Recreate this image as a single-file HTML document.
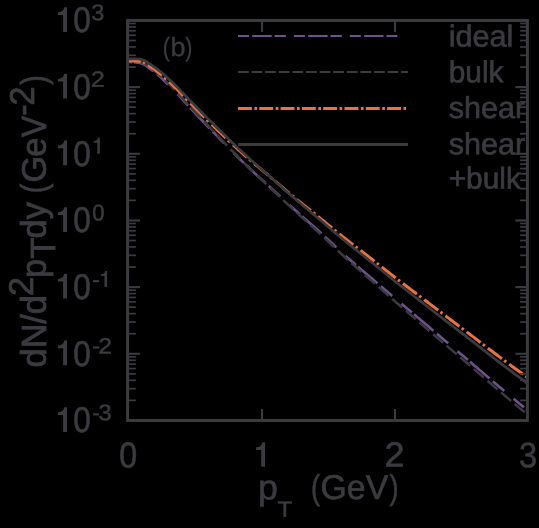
<!DOCTYPE html>
<html><head><meta charset="utf-8"><title>spectra</title>
<style>
html,body{margin:0;padding:0;background:#000;}
body{width:539px;height:528px;overflow:hidden;}
svg{display:block;will-change:transform;}
text{font-family:"Liberation Sans",sans-serif;fill:#3a3a3f;}
</style></head><body>
<svg width="539" height="528" viewBox="0 0 539 528">
<rect width="539" height="528" fill="#000"/>
<path d="M127.60,61.81 L129.07,61.89 L130.53,61.98 L132.00,62.08 M134.10,62.24 L136.04,62.42 L137.98,62.66 L139.92,62.96 L141.86,63.51 L143.80,64.40 L145.74,65.45 L147.68,66.87 L149.62,68.41 L151.56,69.84 L153.50,71.27 M156.90,74.00 L158.78,75.64 L160.67,77.35 L162.55,79.14 L164.43,80.97 L166.32,82.81 L168.20,84.65 M177.50,94.06 L179.25,95.95 L181.00,97.87 L182.75,99.80 L184.50,101.74 L186.25,103.68 L188.00,105.60 M190.10,107.86 L192.04,109.93 L193.98,111.98 L195.92,114.04 L197.86,116.08 L199.80,118.12 L201.74,120.16 L203.68,122.19 L205.62,124.22 L207.56,126.23 L209.50,128.25 M212.90,131.77 L214.78,133.71 L216.67,135.65 L218.55,137.58 L220.43,139.51 L222.32,141.44 L224.20,143.36 M233.50,152.77 L235.25,154.51 L237.00,156.25 L238.75,157.98 L240.50,159.70 L242.25,161.40 L244.00,163.10 M246.10,165.11 L248.04,166.95 L249.98,168.77 L251.92,170.57 L253.86,172.36 L255.80,174.14 L257.74,175.91 L259.68,177.68 L261.62,179.44 L263.56,181.21 L265.50,182.97 M268.90,186.08 L270.78,187.81 L272.67,189.55 L274.55,191.30 L276.43,193.04 L278.32,194.79 L280.20,196.53 M289.50,205.07 L291.25,206.65 L293.00,208.22 L294.75,209.78 L296.50,211.34 L298.25,212.90 L300.00,214.45 M302.10,216.30 L304.04,218.01 L305.98,219.71 L307.92,221.41 L309.86,223.12 L311.80,224.82 L313.74,226.53 L315.68,228.24 L317.62,229.97 L319.56,231.70 L321.50,233.46 M324.90,236.61 L326.78,238.38 L328.67,240.16 L330.55,241.96 L332.43,243.75 L334.32,245.55 L336.20,247.33 M345.50,255.90 L347.25,257.46 L349.00,259.01 L350.75,260.53 L352.50,262.05 L354.25,263.55 L356.00,265.05 M358.10,266.83 L360.04,268.48 L361.98,270.13 L363.92,271.77 L365.86,273.41 L367.80,275.06 L369.74,276.71 L371.68,278.36 L373.62,280.02 L375.56,281.67 L377.50,283.33 M380.90,286.24 L382.78,287.85 L384.67,289.46 L386.55,291.07 L388.43,292.68 L390.32,294.29 L392.20,295.90 M401.50,303.78 L403.25,305.25 L405.00,306.72 L406.75,308.19 L408.50,309.65 L410.25,311.12 L412.00,312.59 M414.10,314.35 L416.04,315.98 L417.98,317.62 L419.92,319.26 L421.86,320.91 L423.80,322.56 L425.74,324.21 L427.68,325.86 L429.62,327.52 L431.56,329.18 L433.50,330.83 M436.90,333.73 L438.78,335.34 L440.67,336.94 L442.55,338.54 L444.43,340.14 L446.32,341.73 L448.20,343.33 M457.50,351.18 L459.25,352.66 L461.00,354.14 L462.75,355.61 L464.50,357.09 L466.25,358.57 L468.00,360.05 M470.10,361.84 L472.04,363.49 L473.98,365.14 L475.92,366.80 L477.86,368.46 L479.80,370.13 L481.74,371.79 L483.68,373.46 L485.62,375.12 L487.56,376.79 L489.50,378.45 M492.90,381.36 L494.78,382.96 L496.67,384.56 L498.55,386.15 L500.43,387.74 L502.32,389.32 L504.20,390.90 M513.50,398.66 L515.25,400.11 L517.00,401.56 L518.75,403.01 L520.50,404.45 L522.25,405.89 L524.00,407.33 M526.10,409.05 L527.40,410.12" fill="none" stroke="#6e508d" stroke-width="2.6"/>
<path d="M127.60,60.60 L129.23,60.69 L130.87,60.78 L132.50,60.89 L134.13,61.00 L135.77,61.14 M139.21,61.58 L141.13,61.98 L143.04,62.75 L144.95,63.72 L146.87,64.95 L148.78,66.46 M152.23,69.02 L154.14,70.45 L156.06,71.98 L157.97,73.61 L159.88,75.32 L161.80,77.10 M165.24,80.45 L167.16,82.32 L169.07,84.20 L170.98,86.09 L172.90,88.00 L174.81,89.95 M178.26,93.58 L180.17,95.66 L182.08,97.76 L184.00,99.88 L185.91,102.00 L187.83,104.10 M191.27,107.80 L193.18,109.84 L195.10,111.87 L197.01,113.90 L198.93,115.93 L200.84,117.95 M204.29,121.59 L206.20,123.61 L208.11,125.64 L210.03,127.66 L211.94,129.69 L213.85,131.71 M217.30,135.36 L219.24,137.41 L221.18,139.45 L223.11,141.48 L225.05,143.51 L226.99,145.53 M230.48,149.16 L232.42,151.17 L234.36,153.16 L236.29,155.15 L238.23,157.12 L240.17,159.08 M243.66,162.57 L245.60,164.49 L247.54,166.38 L249.47,168.26 L251.41,170.12 L253.35,171.96 M256.84,175.26 L258.78,177.08 L260.72,178.89 L262.65,180.70 L264.59,182.51 L266.53,184.33 M270.02,187.61 L271.96,189.44 L273.90,191.28 L275.83,193.12 L277.77,194.96 L279.71,196.81 M283.20,200.11 L284.87,201.69 L286.54,203.26 L288.21,204.82 L289.89,206.38 L291.56,207.92 L293.23,209.46 M296.84,212.76 L298.51,214.28 L300.18,215.79 L301.85,217.31 L303.53,218.81 L305.20,220.32 L306.87,221.82 M310.48,225.06 L312.15,226.57 L313.82,228.07 L315.49,229.59 L317.17,231.11 L318.84,232.63 L320.51,234.17 M324.12,237.54 L325.79,239.13 L327.46,240.72 L329.13,242.31 L330.81,243.91 L332.48,245.51 L334.15,247.11 M337.76,250.54 L339.43,252.11 L341.10,253.66 L342.77,255.21 L344.45,256.74 L346.12,258.27 L347.79,259.78 M351.40,263.02 L353.07,264.51 L354.74,265.99 L356.41,267.46 L358.08,268.92 L359.75,270.38 L361.41,271.84 M365.02,274.98 L366.69,276.44 L368.36,277.90 L370.03,279.36 L371.70,280.82 L373.37,282.29 L375.03,283.76 M378.64,286.94 L380.31,288.41 L381.98,289.88 L383.65,291.35 L385.32,292.82 L386.99,294.29 L388.65,295.76 M392.26,298.94 L393.93,300.40 L395.60,301.86 L397.27,303.32 L398.94,304.78 L400.61,306.23 L402.27,307.68 M405.88,310.78 L407.55,312.21 L409.22,313.64 L410.89,315.07 L412.56,316.49 L414.23,317.92 L415.89,319.34 M419.50,322.43 L421.17,323.86 L422.83,325.30 L424.50,326.73 L426.17,328.17 L427.83,329.60 L429.50,331.04 M433.10,334.14 L434.77,335.57 L436.43,337.00 L438.10,338.44 L439.77,339.86 L441.43,341.29 L443.10,342.72 M446.70,345.79 L448.37,347.21 L450.03,348.63 L451.70,350.05 L453.37,351.47 L455.03,352.88 L456.70,354.30 M460.30,357.37 L461.97,358.79 L463.63,360.21 L465.30,361.63 L466.97,363.06 L468.63,364.48 L470.30,365.91 M473.90,369.01 L475.57,370.45 L477.23,371.89 L478.90,373.34 L480.57,374.78 L482.23,376.23 L483.90,377.67 M487.50,380.79 L489.17,382.24 L490.83,383.68 L492.50,385.12 L494.17,386.55 L495.83,387.98 L497.50,389.41 M501.10,392.48 L502.77,393.89 L504.43,395.30 L506.10,396.71 L507.77,398.12 L509.43,399.52 L511.10,400.93 M514.70,403.95 L516.37,405.34 L518.03,406.73 L519.70,408.13 L521.37,409.51 L523.03,410.90 L524.70,412.28" fill="none" stroke="#3a3a3f" stroke-width="2.5"/>
<path d="M127.60,60.80 L129.49,60.82 L131.37,60.85 L133.26,60.89 L135.15,60.94 L137.04,61.04 L138.92,61.20 L140.81,61.44 M143.11,62.21 L144.11,62.65 L145.11,63.11 M148.05,65.00 L149.80,66.26 L151.55,67.42 L153.30,68.58 L155.05,69.78 L156.80,71.08 L158.55,72.45 L160.30,73.87 L162.05,75.36 M164.35,77.40 L165.35,78.29 L166.35,79.19 M169.29,81.86 L171.04,83.48 L172.79,85.12 L174.54,86.80 L176.29,88.51 L178.04,90.28 L179.79,92.08 L181.54,93.92 L183.29,95.77 M185.59,98.20 L186.59,99.25 L187.59,100.30 M190.53,103.32 L192.28,105.10 L194.03,106.87 L195.78,108.63 L197.53,110.39 L199.28,112.15 L201.03,113.90 L202.78,115.64 L204.53,117.38 M206.83,119.66 L207.83,120.65 L208.83,121.63 M211.77,124.52 L213.52,126.23 L215.27,127.93 L217.02,129.62 L218.77,131.31 L220.52,133.00 L222.27,134.67 L224.02,136.34 L225.77,138.01 M228.07,140.18 L229.07,141.12 L230.07,142.05 M233.01,144.79 L234.76,146.40 L236.51,148.01 L238.26,149.60 L240.01,151.18 L241.76,152.75 L243.51,154.31 L245.26,155.85 L247.01,157.37 M249.31,159.35 L250.31,160.20 L251.31,161.05 M254.25,163.53 L256.00,164.99 L257.75,166.45 L259.50,167.91 L261.25,169.37 L263.00,170.83 L264.75,172.29 L266.50,173.76 L268.25,175.24 M270.55,177.19 L271.55,178.05 L272.55,178.90 M275.49,181.42 L277.24,182.93 L278.99,184.43 L280.74,185.93 L282.49,187.43 L284.24,188.93 L285.99,190.42 L287.74,191.90 L289.49,193.37 M291.79,195.29 L292.79,196.12 L293.79,196.94 M296.73,199.36 L298.48,200.79 L300.23,202.22 L301.98,203.63 L303.73,205.05 L305.48,206.45 L307.23,207.86 L308.98,209.25 L310.73,210.65 M313.03,212.49 L314.03,213.29 L315.03,214.09 M317.97,216.46 L319.72,217.87 L321.47,219.30 L323.22,220.73 L324.97,222.17 L326.72,223.62 L328.47,225.06 L330.22,226.51 L331.97,227.96 M334.27,229.85 L335.27,230.67 L336.27,231.49 M339.21,233.87 L340.96,235.27 L342.71,236.66 L344.46,238.04 L346.21,239.41 L347.96,240.77 L349.71,242.13 L351.46,243.49 L353.21,244.84 M355.51,246.61 L356.51,247.38 L357.51,248.14 M360.45,250.40 L362.20,251.75 L363.95,253.10 L365.70,254.45 L367.45,255.80 L369.20,257.16 L370.95,258.53 L372.70,259.90 L374.45,261.27 M376.75,263.08 L377.75,263.86 L378.75,264.65 M381.69,266.97 L383.44,268.35 L385.19,269.72 L386.94,271.10 L388.69,272.48 L390.44,273.85 L392.19,275.22 L393.94,276.59 L395.69,277.95 M397.99,279.74 L398.99,280.51 L399.99,281.28 M402.93,283.54 L404.68,284.87 L406.43,286.20 L408.18,287.52 L409.93,288.85 L411.68,290.17 L413.43,291.49 L415.18,292.81 L416.93,294.13 M419.23,295.87 L420.23,296.63 L421.23,297.39 M424.17,299.63 L425.92,300.96 L427.67,302.30 L429.42,303.63 L431.17,304.96 L432.92,306.30 L434.67,307.63 L436.42,308.96 L438.17,310.29 M440.47,312.04 L441.47,312.80 L442.47,313.55 M445.41,315.78 L447.16,317.10 L448.91,318.42 L450.66,319.74 L452.41,321.06 L454.16,322.38 L455.91,323.70 L457.66,325.02 L459.41,326.34 M461.71,328.08 L462.71,328.83 L463.71,329.59 M466.65,331.82 L468.40,333.15 L470.15,334.48 L471.90,335.82 L473.65,337.15 L475.40,338.50 L477.15,339.84 L478.90,341.19 L480.65,342.53 M482.95,344.30 L483.95,345.07 L484.95,345.84 M487.89,348.10 L489.64,349.44 L491.39,350.78 L493.14,352.12 L494.89,353.45 L496.64,354.77 L498.39,356.09 L500.14,357.40 L501.89,358.71 M504.19,360.43 L505.19,361.17 L506.19,361.91 M509.13,364.09 L510.88,365.38 L512.63,366.67 L514.38,367.96 L516.13,369.24 L517.88,370.52 L519.63,371.80 L521.38,373.07 L523.13,374.34 M525.43,376.01 L527.40,377.43" fill="none" stroke="#ea7140" stroke-width="3.0"/>
<path d="M127.60,58.80 L129.60,58.81 L131.60,58.82 L133.60,58.84 L135.60,58.89 L137.59,59.00 L139.59,59.16 L141.59,59.53 L143.59,60.27 L145.59,61.19 L147.59,62.48 L149.59,63.92 L151.59,65.23 L153.59,66.53 L155.59,67.90 L157.58,69.39 L159.58,70.96 L161.58,72.61 L163.58,74.35 L165.58,76.12 L167.58,77.91 L169.58,79.73 L171.58,81.58 L173.58,83.48 L175.58,85.42 L177.57,87.42 L179.57,89.49 L181.57,91.59 L183.57,93.72 L185.57,95.85 L187.57,97.97 L189.57,100.06 L191.57,102.11 L193.57,104.16 L195.57,106.20 L197.56,108.24 L199.56,110.27 L201.56,112.29 L203.56,114.31 L205.56,116.33 L207.56,118.33 L209.56,120.33 L211.56,122.32 L213.56,124.31 L215.56,126.28 L217.55,128.25 L219.55,130.21 L221.55,132.17 L223.55,134.13 L225.55,136.08 L227.55,138.03 L229.55,139.96 L231.55,141.89 L233.55,143.81 L235.55,145.72 L237.54,147.61 L239.54,149.50 L241.54,151.36 L243.54,153.22 L245.54,155.05 L247.54,156.87 L249.54,158.66 L251.54,160.44 L253.54,162.20 L255.54,163.96 L257.53,165.70 L259.53,167.44 L261.53,169.18 L263.53,170.92 L265.53,172.67 L267.53,174.42 L269.53,176.18 L271.53,177.96 L273.53,179.74 L275.53,181.53 L277.52,183.32 L279.52,185.11 L281.52,186.90 L283.52,188.68 L285.52,190.46 L287.52,192.22 L289.52,193.98 L291.52,195.72 L293.52,197.45 L295.52,199.17 L297.51,200.88 L299.51,202.59 L301.51,204.28 L303.51,205.97 L305.51,207.65 L307.51,209.33 L309.51,211.00 L311.51,212.67 L313.51,214.34 L315.51,216.01 L317.50,217.69 L319.50,219.38 L321.50,221.08 L323.50,222.79 L325.50,224.51 L327.50,226.23 L329.50,227.96 L331.50,229.69 L333.50,231.40 L335.50,233.11 L337.49,234.80 L339.49,236.48 L341.49,238.14 L343.49,239.78 L345.49,241.41 L347.49,243.03 L349.49,244.64 L351.49,246.24 L353.49,247.84 L355.49,249.43 L357.48,251.02 L359.48,252.61 L361.48,254.20 L363.48,255.79 L365.48,257.38 L367.48,258.98 L369.48,260.58 L371.48,262.19 L373.48,263.81 L375.48,265.42 L377.47,267.04 L379.47,268.66 L381.47,270.29 L383.47,271.91 L385.47,273.53 L387.47,275.15 L389.47,276.77 L391.47,278.38 L393.47,279.99 L395.47,281.59 L397.46,283.19 L399.46,284.78 L401.46,286.36 L403.46,287.93 L405.46,289.49 L407.46,291.05 L409.46,292.61 L411.46,294.16 L413.46,295.71 L415.46,297.27 L417.45,298.82 L419.45,300.37 L421.45,301.93 L423.45,303.49 L425.45,305.06 L427.45,306.62 L429.45,308.18 L431.45,309.74 L433.45,311.30 L435.45,312.86 L437.44,314.42 L439.44,315.97 L441.44,317.52 L443.44,319.06 L445.44,320.61 L447.44,322.15 L449.44,323.68 L451.44,325.22 L453.44,326.76 L455.44,328.29 L457.43,329.83 L459.43,331.36 L461.43,332.90 L463.43,334.44 L465.43,335.97 L467.43,337.52 L469.43,339.06 L471.43,340.61 L473.43,342.16 L475.43,343.71 L477.42,345.27 L479.42,346.83 L481.42,348.40 L483.42,349.96 L485.42,351.52 L487.42,353.08 L489.42,354.64 L491.42,356.19 L493.42,357.74 L495.42,359.28 L497.41,360.82 L499.41,362.35 L501.41,363.88 L503.41,365.40 L505.41,366.91 L507.41,368.42 L509.41,369.93 L511.41,371.43 L513.41,372.93 L515.41,374.43 L517.40,375.92 L519.40,377.41 L521.40,378.90 L523.40,380.38 L525.40,381.85 L527.40,383.33" fill="none" stroke="#3a3a3f" stroke-width="2.7"/>
<path d="M238,35.95 H397.3" stroke="#6e508d" stroke-width="2.1" fill="none" stroke-dasharray="11 3.3 19.4 2.9 11.3 8.0"/>
<path d="M238,72.0 H408" stroke="#3a3a3f" stroke-width="2.0" fill="none" stroke-dasharray="10.8 2.8"/>
<path d="M238,108.4 H406" stroke="#ea7140" stroke-width="3.0" fill="none" stroke-dasharray="13.9 2.5 2.7 2.2"/>
<path d="M238,144.45 H408" stroke="#3a3a3f" stroke-width="2.9" fill="none"/>
<path d="M127.60,67.05 L135.90,67.05" stroke="#3a3a3f" stroke-width="1.7"/>
<path d="M527.40,67.05 L520.10,67.05" stroke="#3a3a3f" stroke-width="1.7"/>
<path d="M127.60,55.31 L135.90,55.31" stroke="#3a3a3f" stroke-width="1.7"/>
<path d="M527.40,55.31 L520.10,55.31" stroke="#3a3a3f" stroke-width="1.7"/>
<path d="M127.60,46.98 L135.90,46.98" stroke="#3a3a3f" stroke-width="1.7"/>
<path d="M527.40,46.98 L520.10,46.98" stroke="#3a3a3f" stroke-width="1.7"/>
<path d="M127.60,40.52 L135.90,40.52" stroke="#3a3a3f" stroke-width="1.7"/>
<path d="M527.40,40.52 L520.10,40.52" stroke="#3a3a3f" stroke-width="1.7"/>
<path d="M127.60,35.24 L135.90,35.24" stroke="#3a3a3f" stroke-width="1.7"/>
<path d="M527.40,35.24 L520.10,35.24" stroke="#3a3a3f" stroke-width="1.7"/>
<path d="M127.60,30.78 L135.90,30.78" stroke="#3a3a3f" stroke-width="1.7"/>
<path d="M527.40,30.78 L520.10,30.78" stroke="#3a3a3f" stroke-width="1.7"/>
<path d="M127.60,26.91 L135.90,26.91" stroke="#3a3a3f" stroke-width="1.7"/>
<path d="M527.40,26.91 L520.10,26.91" stroke="#3a3a3f" stroke-width="1.7"/>
<path d="M127.60,23.50 L135.90,23.50" stroke="#3a3a3f" stroke-width="1.7"/>
<path d="M527.40,23.50 L520.10,23.50" stroke="#3a3a3f" stroke-width="1.7"/>
<path d="M127.60,87.12 L139.90,87.12" stroke="#3a3a3f" stroke-width="2.1"/>
<path d="M527.40,87.12 L515.40,87.12" stroke="#3a3a3f" stroke-width="2.1"/>
<path d="M127.60,133.71 L135.90,133.71" stroke="#3a3a3f" stroke-width="1.7"/>
<path d="M527.40,133.71 L520.10,133.71" stroke="#3a3a3f" stroke-width="1.7"/>
<path d="M127.60,121.98 L135.90,121.98" stroke="#3a3a3f" stroke-width="1.7"/>
<path d="M527.40,121.98 L520.10,121.98" stroke="#3a3a3f" stroke-width="1.7"/>
<path d="M127.60,113.65 L135.90,113.65" stroke="#3a3a3f" stroke-width="1.7"/>
<path d="M527.40,113.65 L520.10,113.65" stroke="#3a3a3f" stroke-width="1.7"/>
<path d="M127.60,107.19 L135.90,107.19" stroke="#3a3a3f" stroke-width="1.7"/>
<path d="M527.40,107.19 L520.10,107.19" stroke="#3a3a3f" stroke-width="1.7"/>
<path d="M127.60,101.91 L135.90,101.91" stroke="#3a3a3f" stroke-width="1.7"/>
<path d="M527.40,101.91 L520.10,101.91" stroke="#3a3a3f" stroke-width="1.7"/>
<path d="M127.60,97.44 L135.90,97.44" stroke="#3a3a3f" stroke-width="1.7"/>
<path d="M527.40,97.44 L520.10,97.44" stroke="#3a3a3f" stroke-width="1.7"/>
<path d="M127.60,93.58 L135.90,93.58" stroke="#3a3a3f" stroke-width="1.7"/>
<path d="M527.40,93.58 L520.10,93.58" stroke="#3a3a3f" stroke-width="1.7"/>
<path d="M127.60,90.17 L135.90,90.17" stroke="#3a3a3f" stroke-width="1.7"/>
<path d="M527.40,90.17 L520.10,90.17" stroke="#3a3a3f" stroke-width="1.7"/>
<path d="M127.60,153.78 L139.90,153.78" stroke="#3a3a3f" stroke-width="2.1"/>
<path d="M527.40,153.78 L515.40,153.78" stroke="#3a3a3f" stroke-width="2.1"/>
<path d="M127.60,200.38 L135.90,200.38" stroke="#3a3a3f" stroke-width="1.7"/>
<path d="M527.40,200.38 L520.10,200.38" stroke="#3a3a3f" stroke-width="1.7"/>
<path d="M127.60,188.64 L135.90,188.64" stroke="#3a3a3f" stroke-width="1.7"/>
<path d="M527.40,188.64 L520.10,188.64" stroke="#3a3a3f" stroke-width="1.7"/>
<path d="M127.60,180.31 L135.90,180.31" stroke="#3a3a3f" stroke-width="1.7"/>
<path d="M527.40,180.31 L520.10,180.31" stroke="#3a3a3f" stroke-width="1.7"/>
<path d="M127.60,173.85 L135.90,173.85" stroke="#3a3a3f" stroke-width="1.7"/>
<path d="M527.40,173.85 L520.10,173.85" stroke="#3a3a3f" stroke-width="1.7"/>
<path d="M127.60,168.57 L135.90,168.57" stroke="#3a3a3f" stroke-width="1.7"/>
<path d="M527.40,168.57 L520.10,168.57" stroke="#3a3a3f" stroke-width="1.7"/>
<path d="M127.60,164.11 L135.90,164.11" stroke="#3a3a3f" stroke-width="1.7"/>
<path d="M527.40,164.11 L520.10,164.11" stroke="#3a3a3f" stroke-width="1.7"/>
<path d="M127.60,160.24 L135.90,160.24" stroke="#3a3a3f" stroke-width="1.7"/>
<path d="M527.40,160.24 L520.10,160.24" stroke="#3a3a3f" stroke-width="1.7"/>
<path d="M127.60,156.83 L135.90,156.83" stroke="#3a3a3f" stroke-width="1.7"/>
<path d="M527.40,156.83 L520.10,156.83" stroke="#3a3a3f" stroke-width="1.7"/>
<path d="M127.60,220.45 L139.90,220.45" stroke="#3a3a3f" stroke-width="2.1"/>
<path d="M527.40,220.45 L515.40,220.45" stroke="#3a3a3f" stroke-width="2.1"/>
<path d="M127.60,267.05 L135.90,267.05" stroke="#3a3a3f" stroke-width="1.7"/>
<path d="M527.40,267.05 L520.10,267.05" stroke="#3a3a3f" stroke-width="1.7"/>
<path d="M127.60,255.31 L135.90,255.31" stroke="#3a3a3f" stroke-width="1.7"/>
<path d="M527.40,255.31 L520.10,255.31" stroke="#3a3a3f" stroke-width="1.7"/>
<path d="M127.60,246.98 L135.90,246.98" stroke="#3a3a3f" stroke-width="1.7"/>
<path d="M527.40,246.98 L520.10,246.98" stroke="#3a3a3f" stroke-width="1.7"/>
<path d="M127.60,240.52 L135.90,240.52" stroke="#3a3a3f" stroke-width="1.7"/>
<path d="M527.40,240.52 L520.10,240.52" stroke="#3a3a3f" stroke-width="1.7"/>
<path d="M127.60,235.24 L135.90,235.24" stroke="#3a3a3f" stroke-width="1.7"/>
<path d="M527.40,235.24 L520.10,235.24" stroke="#3a3a3f" stroke-width="1.7"/>
<path d="M127.60,230.78 L135.90,230.78" stroke="#3a3a3f" stroke-width="1.7"/>
<path d="M527.40,230.78 L520.10,230.78" stroke="#3a3a3f" stroke-width="1.7"/>
<path d="M127.60,226.91 L135.90,226.91" stroke="#3a3a3f" stroke-width="1.7"/>
<path d="M527.40,226.91 L520.10,226.91" stroke="#3a3a3f" stroke-width="1.7"/>
<path d="M127.60,223.50 L135.90,223.50" stroke="#3a3a3f" stroke-width="1.7"/>
<path d="M527.40,223.50 L520.10,223.50" stroke="#3a3a3f" stroke-width="1.7"/>
<path d="M127.60,287.12 L139.90,287.12" stroke="#3a3a3f" stroke-width="2.1"/>
<path d="M527.40,287.12 L515.40,287.12" stroke="#3a3a3f" stroke-width="2.1"/>
<path d="M127.60,333.71 L135.90,333.71" stroke="#3a3a3f" stroke-width="1.7"/>
<path d="M527.40,333.71 L520.10,333.71" stroke="#3a3a3f" stroke-width="1.7"/>
<path d="M127.60,321.98 L135.90,321.98" stroke="#3a3a3f" stroke-width="1.7"/>
<path d="M527.40,321.98 L520.10,321.98" stroke="#3a3a3f" stroke-width="1.7"/>
<path d="M127.60,313.65 L135.90,313.65" stroke="#3a3a3f" stroke-width="1.7"/>
<path d="M527.40,313.65 L520.10,313.65" stroke="#3a3a3f" stroke-width="1.7"/>
<path d="M127.60,307.19 L135.90,307.19" stroke="#3a3a3f" stroke-width="1.7"/>
<path d="M527.40,307.19 L520.10,307.19" stroke="#3a3a3f" stroke-width="1.7"/>
<path d="M127.60,301.91 L135.90,301.91" stroke="#3a3a3f" stroke-width="1.7"/>
<path d="M527.40,301.91 L520.10,301.91" stroke="#3a3a3f" stroke-width="1.7"/>
<path d="M127.60,297.44 L135.90,297.44" stroke="#3a3a3f" stroke-width="1.7"/>
<path d="M527.40,297.44 L520.10,297.44" stroke="#3a3a3f" stroke-width="1.7"/>
<path d="M127.60,293.58 L135.90,293.58" stroke="#3a3a3f" stroke-width="1.7"/>
<path d="M527.40,293.58 L520.10,293.58" stroke="#3a3a3f" stroke-width="1.7"/>
<path d="M127.60,290.17 L135.90,290.17" stroke="#3a3a3f" stroke-width="1.7"/>
<path d="M527.40,290.17 L520.10,290.17" stroke="#3a3a3f" stroke-width="1.7"/>
<path d="M127.60,353.78 L139.90,353.78" stroke="#3a3a3f" stroke-width="2.1"/>
<path d="M527.40,353.78 L515.40,353.78" stroke="#3a3a3f" stroke-width="2.1"/>
<path d="M127.60,400.38 L135.90,400.38" stroke="#3a3a3f" stroke-width="1.7"/>
<path d="M527.40,400.38 L520.10,400.38" stroke="#3a3a3f" stroke-width="1.7"/>
<path d="M127.60,388.64 L135.90,388.64" stroke="#3a3a3f" stroke-width="1.7"/>
<path d="M527.40,388.64 L520.10,388.64" stroke="#3a3a3f" stroke-width="1.7"/>
<path d="M127.60,380.31 L135.90,380.31" stroke="#3a3a3f" stroke-width="1.7"/>
<path d="M527.40,380.31 L520.10,380.31" stroke="#3a3a3f" stroke-width="1.7"/>
<path d="M127.60,373.85 L135.90,373.85" stroke="#3a3a3f" stroke-width="1.7"/>
<path d="M527.40,373.85 L520.10,373.85" stroke="#3a3a3f" stroke-width="1.7"/>
<path d="M127.60,368.57 L135.90,368.57" stroke="#3a3a3f" stroke-width="1.7"/>
<path d="M527.40,368.57 L520.10,368.57" stroke="#3a3a3f" stroke-width="1.7"/>
<path d="M127.60,364.11 L135.90,364.11" stroke="#3a3a3f" stroke-width="1.7"/>
<path d="M527.40,364.11 L520.10,364.11" stroke="#3a3a3f" stroke-width="1.7"/>
<path d="M127.60,360.24 L135.90,360.24" stroke="#3a3a3f" stroke-width="1.7"/>
<path d="M527.40,360.24 L520.10,360.24" stroke="#3a3a3f" stroke-width="1.7"/>
<path d="M127.60,356.83 L135.90,356.83" stroke="#3a3a3f" stroke-width="1.7"/>
<path d="M527.40,356.83 L520.10,356.83" stroke="#3a3a3f" stroke-width="1.7"/>
<path d="M262.00,20.45 L262.00,31.95" stroke="#3a3a3f" stroke-width="2.1"/>
<path d="M262.00,420.45 L262.00,408.95" stroke="#3a3a3f" stroke-width="2.1"/>
<path d="M395.00,20.45 L395.00,31.95" stroke="#3a3a3f" stroke-width="2.1"/>
<path d="M395.00,420.45 L395.00,408.95" stroke="#3a3a3f" stroke-width="2.1"/>
<rect x="127.6" y="20.45" width="399.79999999999995" height="400.0" fill="none" stroke="#3a3a3f" stroke-width="3.0"/>
<path d="M67.00,31.90 v-24.75 h-2.80 c-0.50,3.25 -2.70,5.05 -6.25,5.05 v2.70 h5.15 V31.90 Z" fill="#3a3a3f"/>
<text transform="translate(73.20,32.20) rotate(0.03) scale(0.8765,1)" font-size="35.8" stroke="#3a3a3f" stroke-width="0.65">0</text>
<text transform="translate(91.33,20.25) rotate(0.03) scale(1.034,1)" font-size="22.75" stroke="#3a3a3f" stroke-width="0.45">3</text>
<path d="M67.00,98.57 v-24.75 h-2.80 c-0.50,3.25 -2.70,5.05 -6.25,5.05 v2.70 h5.15 V98.57 Z" fill="#3a3a3f"/>
<text transform="translate(73.20,98.87) rotate(0.03) scale(0.8765,1)" font-size="35.8" stroke="#3a3a3f" stroke-width="0.65">0</text>
<text transform="translate(90.98,86.72) rotate(0.03) scale(1.122,1)" font-size="22.1" stroke="#3a3a3f" stroke-width="0.45">2</text>
<path d="M67.00,165.23 v-24.75 h-2.80 c-0.50,3.25 -2.70,5.05 -6.25,5.05 v2.70 h5.15 V165.23 Z" fill="#3a3a3f"/>
<text transform="translate(73.20,165.53) rotate(0.03) scale(0.8765,1)" font-size="35.8" stroke="#3a3a3f" stroke-width="0.65">0</text>
<path d="M99.90,153.68 v-15.90 h-1.89 c-0.34,2.09 -1.82,3.24 -4.22,3.24 v1.73 h3.47 V153.68 Z" fill="#3a3a3f"/>
<path d="M67.00,231.90 v-24.75 h-2.80 c-0.50,3.25 -2.70,5.05 -6.25,5.05 v2.70 h5.15 V231.90 Z" fill="#3a3a3f"/>
<text transform="translate(73.20,232.20) rotate(0.03) scale(0.8765,1)" font-size="35.8" stroke="#3a3a3f" stroke-width="0.65">0</text>
<text transform="translate(92.30,220.45) rotate(0.03) scale(0.955,1)" font-size="23.1" stroke="#3a3a3f" stroke-width="0.45">0</text>
<path d="M67.00,298.57 v-24.75 h-2.80 c-0.50,3.25 -2.70,5.05 -6.25,5.05 v2.70 h5.15 V298.57 Z" fill="#3a3a3f"/>
<text transform="translate(73.20,298.87) rotate(0.03) scale(0.8765,1)" font-size="35.8" stroke="#3a3a3f" stroke-width="0.65">0</text>
<text transform="translate(92.16,287.17) rotate(0.03) scale(1.008,1)" font-size="22.75" stroke="#3a3a3f" stroke-width="0.45">-</text>
<path d="M107.10,287.02 v-15.90 h-1.89 c-0.34,2.09 -1.82,3.24 -4.22,3.24 v1.73 h3.47 V287.02 Z" fill="#3a3a3f"/>
<path d="M67.00,365.23 v-24.75 h-2.80 c-0.50,3.25 -2.70,5.05 -6.25,5.05 v2.70 h5.15 V365.23 Z" fill="#3a3a3f"/>
<text transform="translate(73.20,365.53) rotate(0.03) scale(0.8765,1)" font-size="35.8" stroke="#3a3a3f" stroke-width="0.65">0</text>
<text transform="translate(92.16,353.83) rotate(0.03) scale(1.008,1)" font-size="22.75" stroke="#3a3a3f" stroke-width="0.45">-</text>
<text transform="translate(98.18,353.38) rotate(0.03) scale(1.122,1)" font-size="22.1" stroke="#3a3a3f" stroke-width="0.45">2</text>
<path d="M67.00,431.90 v-24.75 h-2.80 c-0.50,3.25 -2.70,5.05 -6.25,5.05 v2.70 h5.15 V431.90 Z" fill="#3a3a3f"/>
<text transform="translate(73.20,432.20) rotate(0.03) scale(0.8765,1)" font-size="35.8" stroke="#3a3a3f" stroke-width="0.65">0</text>
<text transform="translate(92.16,420.50) rotate(0.03) scale(1.008,1)" font-size="22.75" stroke="#3a3a3f" stroke-width="0.45">-</text>
<text transform="translate(98.53,420.25) rotate(0.03) scale(1.034,1)" font-size="22.75" stroke="#3a3a3f" stroke-width="0.45">3</text>
<text transform="translate(128.10,467.40) rotate(0.03) scale(0.8895,1)" font-size="36.1" text-anchor="middle" stroke="#3a3a3f" stroke-width="0.65">0</text>
<path d="M265.10,466.80 v-24.60 h-2.78 c-0.50,3.23 -2.68,5.02 -6.21,5.02 v2.68 h5.12 V466.80 Z" fill="#3a3a3f"/>
<text transform="translate(384.50,466.60) rotate(0.03) scale(1.035,1)" font-size="34.87" stroke="#3a3a3f" stroke-width="0.65">2</text>
<text transform="translate(519.08,467.23) rotate(0.03) scale(0.918,1)" font-size="35.5" stroke="#3a3a3f" stroke-width="0.65">3</text>
<text transform="translate(258.00,499.20) rotate(0.03) scale(1.02,1)" font-size="34.96" stroke="#3a3a3f" stroke-width="0.65">p</text>
<text transform="translate(277.50,516.70) rotate(0.03) scale(1.097,1)" font-size="22.0" stroke="#3a3a3f" stroke-width="0.45">T</text>
<text transform="translate(310.90,499.10) rotate(0.03) scale(0.786,1)" font-size="34.3" stroke="#3a3a3f" stroke-width="0.65">(</text>
<text transform="translate(320.60,499.10) rotate(0.03) scale(0.985,1)" font-size="34.3" stroke="#3a3a3f" stroke-width="0.65">GeV</text>
<text transform="translate(389.60,499.10) rotate(0.03) scale(0.786,1)" font-size="34.3" stroke="#3a3a3f" stroke-width="0.65">)</text>
<g transform="translate(46.3,367.4) rotate(-90)"><text transform="translate(0.00,0.00) scale(0.97,1)" font-size="35.3" stroke="#3a3a3f" stroke-width="0.85">dN/d</text>
<text transform="translate(71.30,-13.20) scale(0.97,1)" font-size="35.3" stroke="#3a3a3f" stroke-width="0.85">2</text>
<text transform="translate(89.30,0.00) scale(0.97,1)" font-size="35.3" stroke="#3a3a3f" stroke-width="0.85">p</text>
<text transform="translate(108.80,8.40) scale(0.97,1)" font-size="35.3" stroke="#3a3a3f" stroke-width="0.85">T</text>
<text transform="translate(129.00,0.00) scale(0.97,1)" font-size="35.3" stroke="#3a3a3f" stroke-width="0.85">dy</text>
<text transform="translate(174.05,0.00) scale(0.8,1)" font-size="35.3" stroke="#3a3a3f" stroke-width="0.85">(</text>
<text transform="translate(184.90,0.00) scale(0.97,1)" font-size="35.3" stroke="#3a3a3f" stroke-width="0.85">G</text>
<text transform="translate(210.70,0.00) scale(0.97,1)" font-size="35.3" stroke="#3a3a3f" stroke-width="0.85">e</text>
<text transform="translate(230.50,0.00) scale(0.9,1)" font-size="35.3" stroke="#3a3a3f" stroke-width="0.85">V</text>
<text transform="translate(251.60,-12.50) scale(0.97,1)" font-size="35.3" stroke="#3a3a3f" stroke-width="0.85">-</text>
<text transform="translate(262.00,-12.50) scale(0.97,1)" font-size="35.3" stroke="#3a3a3f" stroke-width="0.85">2</text>
<text transform="translate(282.60,0.00) scale(0.8,1)" font-size="35.3" stroke="#3a3a3f" stroke-width="0.85">)</text>
</g>
<text transform="translate(162.70,56.05) rotate(0.03) scale(0.817,1)" font-size="26.3" stroke="#3a3a3f" stroke-width="0.3">(</text>
<text transform="translate(170.60,56.05) rotate(0.03) scale(1.03,1)" font-size="26.3" stroke="#3a3a3f" stroke-width="0.3">b</text>
<text transform="translate(185.20,56.05) rotate(0.03) scale(0.817,1)" font-size="26.3" stroke="#3a3a3f" stroke-width="0.3">)</text>
<text transform="translate(448.70,46.40) rotate(0.03) scale(1.01,1)" font-size="30.3" stroke="#3a3a3f" stroke-width="0.65">ideal</text>
<text transform="translate(448.70,82.30) rotate(0.03) scale(0.985,1)" font-size="30.3" stroke="#3a3a3f" stroke-width="0.65">bulk</text>
<text transform="translate(448.70,117.90) rotate(0.03) scale(1.01,1)" font-size="30.3" stroke="#3a3a3f" stroke-width="0.65">shear</text>
<text transform="translate(448.70,154.30) rotate(0.03) scale(1.01,1)" font-size="30.3" stroke="#3a3a3f" stroke-width="0.65">shear</text>
<text transform="translate(448.70,188.60) rotate(0.03) scale(0.985,1)" font-size="30.3" stroke="#3a3a3f" stroke-width="0.65">+bulk</text>
</svg>
</body></html>
